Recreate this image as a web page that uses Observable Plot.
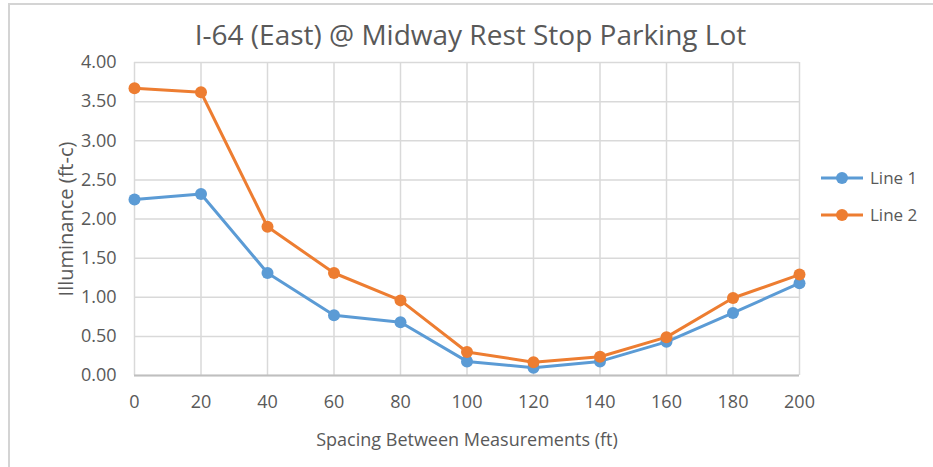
<!DOCTYPE html>
<html>
<head>
<meta charset="utf-8">
<script src="https://cdn.jsdelivr.net/npm/d3@7"></script>
<script src="https://cdn.jsdelivr.net/npm/@observablehq/plot@0.6"></script>
<style>
  html, body { margin: 0; padding: 0; background: #fff; }
  #wrap { position: relative; width: 933px; height: 467px; overflow: hidden; font-family: "Open Sans", sans-serif; color: #595959; }
  #border { position: absolute; left: 8px; top: 3px; width: 940px; height: 480px; border: 2px solid #d4d4d4; box-sizing: border-box; }
  #title { position: absolute; left: 8px; right: 0; top: 18px; text-align: center; font-size: 28px; color: #595959; line-height: 1.2; }
  #chart { position: absolute; left: 0; top: 0; }
  #legend { position: absolute; left: 820px; top: 159px; font-size: 17px; }
  .item { display: flex; align-items: center; height: 37px; }
  .item svg { margin-right: 6px; }
  g[aria-label="y-axis label"] text { font-size: 20px; }
</style>
</head>
<body>
<div id="wrap">
  <div id="border"></div>
  <div id="chart"></div>
  <div id="title">I-64 (East) @ Midway Rest Stop Parking Lot</div>
  <div id="legend"></div>
</div>
<script>
const spacing = [0, 20, 40, 60, 80, 100, 120, 140, 160, 180, 200];
const line1 = [2.25, 2.32, 1.31, 0.77, 0.68, 0.18, 0.10, 0.18, 0.43, 0.80, 1.18];
const line2 = [3.67, 3.62, 1.90, 1.31, 0.96, 0.30, 0.17, 0.24, 0.49, 0.99, 1.29];
const seriesNames = ["Line 1", "Line 2"];
const seriesColors = ["#5b9bd5", "#ed7d31"];
const yTicks = [0, 0.5, 1, 1.5, 2, 2.5, 3, 3.5, 4];
const xTicks = spacing;

const data = [];
[line1, line2].forEach((vals, i) => {
  vals.forEach((v, j) => data.push({series: seriesNames[i], x: spacing[j], y: v}));
});

const chart = Plot.plot({
  width: 933,
  height: 467,
  marginLeft: 134,
  marginRight: 134,
  marginTop: 62,
  marginBottom: 92,
  style: { fontFamily: "'Open Sans', sans-serif", fontSize: "18px", color: "#595959", background: "transparent" },
  x: { domain: [0, 200] },
  y: { domain: [0, 4] },
  color: { domain: seriesNames, range: seriesColors },
  marks: [
    Plot.gridX(xTicks, { stroke: "#d9d9d9", strokeOpacity: 1, strokeWidth: 1.5 }),
    Plot.gridY(yTicks, { stroke: "#d9d9d9", strokeOpacity: 1, strokeWidth: 1.5 }),
    Plot.ruleY([0], { stroke: "#bfbfbf", strokeWidth: 2 }),
    Plot.axisX({ ticks: xTicks, tickSize: 0, tickPadding: 20, fontSize: 18, label: null }),
    Plot.axisX({ ticks: [], tickSize: 0, label: "Spacing Between Measurements (ft)", labelAnchor: "center", labelOffset: 70, labelArrow: "none", fontSize: 18 }),
    Plot.axisY({ ticks: yTicks, tickSize: 0, tickPadding: 18, tickFormat: d3.format(".2f"), fontSize: 18, label: null }),
    Plot.axisY({ ticks: [], tickSize: 0, label: "Illuminance (ft-c)", labelAnchor: "center", labelOffset: 76, labelArrow: "none", fontSize: 20 }),
    Plot.line(data, { x: "x", y: "y", stroke: "series", strokeWidth: 3 }),
    Plot.dot(data, { x: "x", y: "y", fill: "series", r: 6 })
  ]
});
document.getElementById("chart").appendChild(chart);

const legend = document.getElementById("legend");
seriesNames.forEach((name, i) => {
  const item = document.createElement("div");
  item.className = "item";
  item.innerHTML = `<svg width="44" height="14"><line x1="1" y1="7" x2="43" y2="7" stroke="${seriesColors[i]}" stroke-width="3"/><circle cx="22" cy="7" r="6" fill="${seriesColors[i]}"/></svg><span>${name}</span>`;
  legend.appendChild(item);
});
</script>
</body>
</html>
